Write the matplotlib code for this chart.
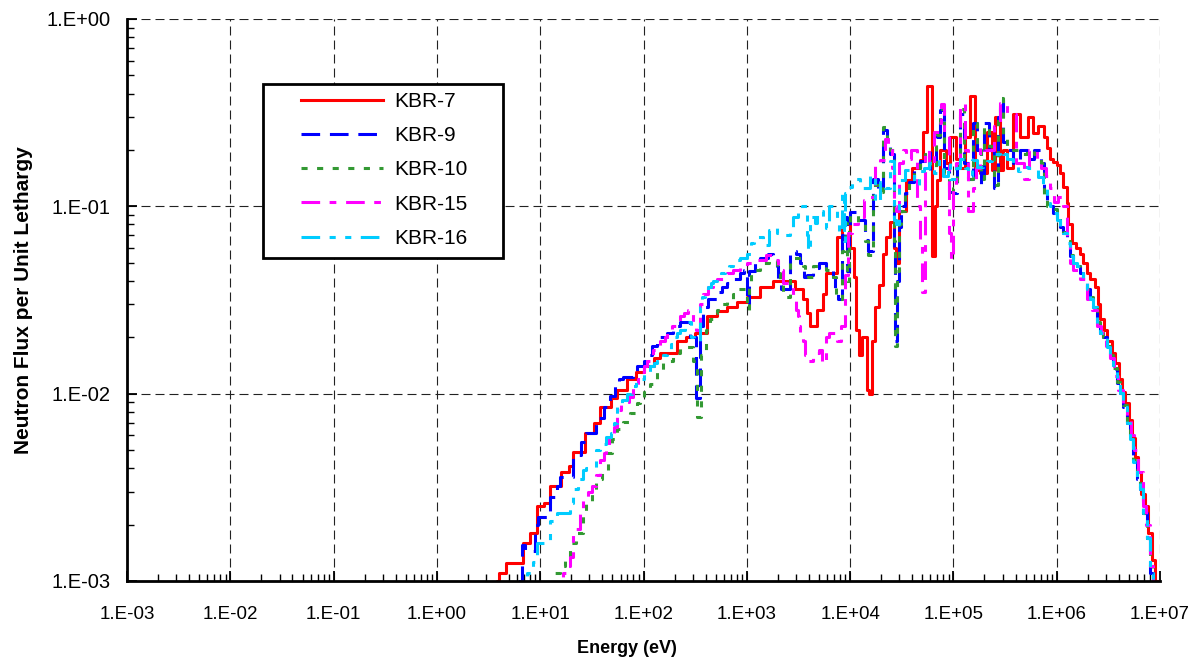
import math
import matplotlib
matplotlib.use("Agg")
import matplotlib.pyplot as plt
from matplotlib.ticker import LogLocator, FuncFormatter, NullFormatter
from matplotlib.patches import Rectangle

plt.rcParams['font.family'] = ['Liberation Sans', 'DejaVu Sans']

# ---------------- data (energy in eV, flux per unit lethargy) ----------------
labels = ["KBR-7", "KBR-9", "KBR-10", "KBR-15", "KBR-16"]

kbr7_e = [3.5, 3.8, 4.0, 4.7, 6.8, 8.0, 9.3, 11, 12.5, 16, 19, 21, 27, 33, 38, 48, 55, 69, 85, 100,
          125, 145, 209, 260, 316, 410, 520, 640, 800, 1000, 1350, 1800, 2450, 2950, 3500, 3800,
          4100, 4800, 5500, 5900, 7400, 8300, 9000, 10000, 11000, 11500, 12300, 13000, 14500,
          15300, 16200, 17500, 19000, 21000, 22500, 24500, 26500, 28000, 30000, 35000, 40000,
          48000, 51000, 56000, 61500, 66000, 70000, 75000, 85000, 92700, 105000, 117000, 130000,
          145000, 162000, 181000, 211000, 237000, 253000, 283000, 305000, 330000, 378000, 442000,
          528000, 590000, 659000, 760000, 806000, 861000, 921000, 1.007e6, 1.077e6, 1.151e6,
          1.259e6, 1.30e6, 1.40e6, 1.55e6, 1.683e6, 1.80e6, 1.966e6, 2.10e6, 2.35e6, 2.50e6,
          2.65e6, 2.90e6, 3.10e6, 3.40e6, 3.70e6, 4.00e6, 4.30e6, 4.60e6, 5.00e6, 5.30e6, 5.70e6,
          6.10e6, 6.60e6, 7.10e6, 7.70e6, 8.30e6, 9.00e6, 9.50e6, 9.80e6]
kbr7_phi = [8e-4, 1.0e-3, 1.1e-3, 1.25e-3, 1.6e-3, 1.8e-3, 2.5e-3, 2.6e-3, 3.2e-3, 3.8e-3, 4.1e-3,
            4.9e-3, 6.2e-3, 7.0e-3, 8.5e-3, 9.5e-3, 1.05e-2, 1.2e-2, 1.3e-2, 1.4e-2, 1.55e-2,
            1.65e-2, 1.9e-2, 2.0e-2, 2.1e-2, 2.6e-2, 2.75e-2, 2.9e-2, 3.1e-2, 3.3e-2, 3.7e-2,
            4.0e-2, 4.0e-2, 3.6e-2, 3.2e-2, 2.7e-2, 2.3e-2, 2.8e-2, 3.4e-2, 4.4e-2, 6.9e-2,
            8.8e-2, 8.0e-2, 6.0e-2, 4.2e-2, 2.2e-2, 1.6e-2, 2.0e-2, 1.05e-2, 1.0e-2, 1.9e-2,
            2.9e-2, 3.8e-2, 5.6e-2, 6.9e-2, 8.2e-2, 6.0e-2, 5.0e-2, 9.4e-2, 0.138, 0.16, 0.177,
            0.25, 0.44, 0.054, 0.10, 0.138, 0.20, 0.17, 0.235, 0.18, 0.16, 0.235, 0.39, 0.157,
            0.15, 0.25, 0.157, 0.30, 0.157, 0.20, 0.16, 0.31, 0.235, 0.30, 0.245, 0.27, 0.235,
            0.205, 0.18, 0.172, 0.166, 0.15, 0.127, 0.104, 0.08, 0.064, 0.06, 0.056, 0.05, 0.044,
            0.041, 0.037, 0.03, 0.025, 0.022, 0.019, 0.0165, 0.0146, 0.012, 0.0102, 0.0089,
            0.0072, 0.0058, 0.0046, 0.0038, 0.0029, 0.0025, 0.0018, 0.0013, 0.0010, 7e-4, 7e-4]

kbr9_e = [4.9, 5.0, 6.7, 7.2, 9.0, 9.5, 12.5, 14.5, 15.5, 21, 25, 28, 35, 41, 47, 53, 58, 63, 80,
          87, 100, 108, 120, 135, 170, 195, 225, 280, 320, 355, 380, 420, 510, 580, 640, 740, 860,
          950, 1000, 1050, 1200, 1350, 1600, 1800, 1950, 2000, 2150, 2600, 3000, 3300, 3550, 3800,
          4400, 5000, 5900, 6800, 7200, 7600, 8300, 8800, 9300, 9700, 10000, 12000, 14000, 15000,
          16500, 18500, 21000, 23000, 24500, 26500, 27200, 28500, 29500, 31000, 34000, 37000,
          42000, 47000, 53000, 60000, 68000, 75000, 82000, 90000, 100000, 108000, 115000, 128000,
          140000, 155000, 170000, 185000, 200000, 220000, 245000, 270000, 283000, 300000, 330000,
          380000, 440000, 520000, 600000, 700000, 760000, 806000, 860000, 920000, 1.007e6,
          1.077e6, 1.151e6, 1.259e6, 1.35e6, 1.45e6, 1.57e6, 1.68e6, 1.80e6, 1.97e6, 2.10e6,
          2.25e6, 2.45e6, 2.62e6, 2.80e6, 3.07e6, 3.28e6, 3.51e6, 3.84e6, 4.10e6, 4.39e6, 4.80e6,
          5.13e6, 5.48e6, 5.99e6, 6.40e6, 6.84e6, 7.48e6, 8.00e6, 8.55e6, 9.20e6, 9.60e6]
kbr9_phi = [8e-4, 1.0e-3, 1.55e-3, 1.45e-3, 2.0e-3, 2.2e-3, 2.8e-3, 3.2e-3, 3.6e-3, 4.7e-3, 5.5e-3,
            6.2e-3, 7.4e-3, 8.5e-3, 9.7e-3, 1.1e-2, 1.2e-2, 1.22e-2, 1.3e-2, 1.4e-2, 1.5e-2,
            1.6e-2, 1.8e-2, 2.0e-2, 2.1e-2, 2.3e-2, 2.4e-2, 2.0e-2, 9.5e-3, 2.3e-2, 2.9e-2, 3.2e-2,
            3.5e-2, 3.7e-2, 3.9e-2, 4.1e-2, 4.4e-2, 4.6e-2, 3.0e-2, 4.5e-2, 5.0e-2, 5.3e-2, 5.6e-2,
            5.1e-2, 4.8e-2, 4.0e-2, 3.6e-2, 5.8e-2, 5.6e-2, 5.0e-2, 4.2e-2, 4.3e-2, 4.7e-2, 5.0e-2,
            4.6e-2, 4.2e-2, 3.4e-2, 3.2e-2, 7.0e-2, 8.8e-2, 4.5e-2, 7.7e-2, 9.3e-2, 8.5e-2, 6.6e-2,
            5.8e-2, 0.14, 0.12, 0.255, 0.22, 0.19, 0.06, 0.019, 0.04, 0.078, 0.10, 0.118, 0.135,
            0.16, 0.175, 0.20, 0.157, 0.235, 0.326, 0.16, 0.12, 0.118, 0.17, 0.31, 0.17, 0.14,
            0.28, 0.20, 0.13, 0.28, 0.20, 0.125, 0.30, 0.37, 0.22, 0.20, 0.17, 0.20, 0.18, 0.20,
            0.17, 0.12, 0.104, 0.10, 0.092, 0.085, 0.078, 0.072, 0.064, 0.054, 0.05, 0.048, 0.044,
            0.04, 0.036, 0.032, 0.029, 0.023, 0.021, 0.020, 0.0178, 0.0157, 0.0135, 0.0114,
            0.0101, 0.0085, 0.0070, 0.0057, 0.0043, 0.0035, 0.0031, 0.0023, 0.0017, 0.0011,
            9e-4, 6e-4, 6e-4]

kbr10_e = [12.5, 14, 15.5, 17.5, 19.5, 22, 26, 28, 32, 35, 40, 45, 50, 56, 63, 74, 87, 93, 100, 115,
           125, 135, 155, 170, 195, 225, 250, 300, 330, 360, 400, 440, 470, 510, 570, 640, 730, 810,
           1000, 1050, 1100, 1350, 1650, 1950, 2100, 2250, 2600, 3500, 3650, 3900, 4400, 5900,
           6800, 7300, 8300, 8900, 9300, 9700, 10000, 12000, 14000, 15000, 16500, 18500, 21000,
           23000, 24500, 26500, 27200, 28500, 29500, 31000, 34000, 37000, 42000, 47000, 53000,
           60000, 68000, 75000, 82000, 90000, 100000, 108000, 115000, 128000, 140000, 155000,
           170000, 185000, 200000, 220000, 245000, 270000, 283000, 300000, 330000, 380000, 440000,
           520000, 600000, 700000, 760000, 806000, 900000, 1.007e6, 1.077e6, 1.151e6, 1.259e6,
           1.35e6, 1.45e6, 1.57e6, 1.68e6, 1.80e6, 1.97e6, 2.10e6, 2.25e6, 2.45e6, 2.62e6, 2.80e6,
           3.07e6, 3.28e6, 3.51e6, 3.84e6, 4.10e6, 4.39e6, 4.80e6, 5.13e6, 5.48e6, 5.99e6, 6.40e6,
           6.84e6, 7.48e6, 8.00e6, 8.55e6, 9.20e6, 9.60e6]
kbr10_phi = [8e-4, 1.1e-3, 1.2e-3, 1.3e-3, 1.6e-3, 1.8e-3, 2.3e-3, 2.6e-3, 2.9e-3, 3.5e-3, 3.9e-3,
             4.8e-3, 5.7e-3, 6.5e-3, 7.1e-3, 7.9e-3, 8.9e-3, 9.6e-3, 1.05e-2, 1.12e-2, 1.2e-2,
             1.3e-2, 1.45e-2, 1.5e-2, 1.65e-2, 1.75e-2, 1.78e-2, 1.5e-2, 7.5e-3, 1.6e-2, 2.2e-2,
             2.5e-2, 2.7e-2, 2.8e-2, 3.0e-2, 3.2e-2, 3.4e-2, 3.6e-2, 2.8e-2, 3.9e-2, 4.6e-2,
             5.0e-2, 5.2e-2, 4.4e-2, 3.9e-2, 3.3e-2, 5.3e-2, 4.8e-2, 4.4e-2, 4.2e-2, 4.8e-2,
             4.6e-2, 4.2e-2, 3.2e-2, 5.8e-2, 8.1e-2, 4.0e-2, 7.5e-2, 9.0e-2, 8.2e-2, 6.5e-2,
             5.5e-2, 0.13, 0.12, 0.265, 0.23, 0.20, 0.065, 0.018, 0.045, 0.08, 0.095, 0.12, 0.14,
             0.16, 0.18, 0.19, 0.16, 0.24, 0.33, 0.15, 0.12, 0.125, 0.17, 0.33, 0.18, 0.14, 0.28,
             0.21, 0.14, 0.27, 0.21, 0.13, 0.30, 0.38, 0.24, 0.21, 0.20, 0.19, 0.20, 0.19, 0.17,
             0.115, 0.10, 0.097, 0.087, 0.079, 0.073, 0.065, 0.055, 0.051, 0.048, 0.045, 0.041,
             0.036, 0.033, 0.029, 0.024, 0.021, 0.020, 0.018, 0.016, 0.0137, 0.0116, 0.0103,
             0.0087, 0.0071, 0.0058, 0.0044, 0.0036, 0.0031, 0.0023, 0.0017, 0.0012, 9e-4, 6e-4,
             6e-4]

kbr15_e = [14.5, 15, 16.5, 18, 19.5, 21, 24.5, 26, 29, 32, 35, 38, 41, 43, 46, 49, 52, 55, 60, 62, 72,
           80, 88, 93, 100, 107, 115, 124, 135, 145, 160, 170, 190, 205, 225, 245, 270, 300, 320,
           355, 380, 420, 470, 510, 640, 740, 860, 1000, 1250, 1550, 1780, 2000, 2250, 2650, 2800,
           3000, 3100, 3200, 3300, 3500, 3650, 3900, 4400, 5000, 5400, 5900, 6300, 7400, 8100,
           8900, 9500, 10500, 12000, 13500, 15000, 17500, 19500, 22000, 23500, 25500, 26500,
           28000, 30000, 32500, 35000, 39000, 44000, 47000, 50000, 53000, 58000, 65000, 72000,
           76000, 82000, 90000, 94000, 100000, 107000, 115000, 130000, 140000, 155000, 165000,
           180000, 200000, 245000, 283000, 330000, 400000, 480000, 540000, 640000, 700000, 780000,
           860000, 950000, 1.04e6, 1.15e6, 1.26e6, 1.34e6, 1.45e6, 1.68e6, 1.97e6, 2.20e6, 2.45e6,
           2.70e6, 3.00e6, 3.30e6, 3.60e6, 3.90e6, 4.40e6, 4.80e6, 5.20e6, 5.60e6, 6.10e6, 6.80e6,
           7.40e6, 8.00e6, 8.60e6, 9.10e6, 9.50e6]
kbr15_phi = [8e-4, 1.0e-3, 1.1e-3, 1.2e-3, 1.35e-3, 1.9e-3, 2.3e-3, 2.8e-3, 3.0e-3, 3.2e-3, 3.7e-3,
             4.4e-3, 4.8e-3, 5.2e-3, 5.7e-3, 6.2e-3, 6.6e-3, 8.2e-3, 8.7e-3, 9.0e-3, 9.6e-3,
             1.1e-2, 1.2e-2, 1.3e-2, 1.4e-2, 1.5e-2, 1.6e-2, 1.7e-2, 1.8e-2, 1.9e-2, 2.0e-2,
             2.2e-2, 2.3e-2, 2.4e-2, 2.6e-2, 2.7e-2, 2.8e-2, 2.4e-2, 2.2e-2, 3.0e-2, 3.4e-2,
             3.7e-2, 3.9e-2, 4.1e-2, 4.4e-2, 4.6e-2, 4.8e-2, 5.0e-2, 5.2e-2, 5.5e-2, 5.2e-2,
             4.6e-2, 3.9e-2, 3.8e-2, 3.2e-2, 2.8e-2, 2.6e-2, 2.3e-2, 2.0e-2, 1.9e-2, 1.6e-2,
             1.5e-2, 1.65e-2, 1.7e-2, 1.45e-2, 2.0e-2, 2.1e-2, 1.9e-2, 2.3e-2, 4.3e-2, 7.2e-2,
             8.0e-2, 8.8e-2, 0.108, 0.112, 0.165, 0.177, 0.23, 0.21, 0.16, 0.10, 0.094, 0.17,
             0.20, 0.18, 0.20, 0.10, 0.065, 0.035, 0.20, 0.16, 0.25, 0.28, 0.35, 0.25, 0.072,
             0.052, 0.13, 0.17, 0.35, 0.20, 0.095, 0.125, 0.16, 0.21, 0.20, 0.27, 0.355, 0.31,
             0.17, 0.14, 0.20, 0.177, 0.16, 0.145, 0.125, 0.105, 0.112, 0.10, 0.068, 0.05, 0.046,
             0.041, 0.032, 0.028, 0.023, 0.021, 0.018, 0.0155, 0.0125, 0.0105, 0.0085, 0.0072,
             0.006, 0.005, 0.0038, 0.0025, 0.002, 0.0012, 9e-4, 6e-4, 6e-4]

kbr16_e = [6.6, 6.8, 7.5, 8.5, 9.3, 12.5, 14.5, 19.5, 21, 23, 26, 28, 35, 38, 43, 48, 52, 55, 62, 69,
           78, 85, 89, 100, 115, 125, 135, 155, 170, 185, 195, 210, 225, 250, 270, 290, 310, 355,
           370, 390, 420, 450, 470, 520, 560, 620, 680, 740, 800, 860, 1000, 1100, 1180, 1250,
           1450, 1650, 1800, 1950, 2200, 2600, 2800, 3100, 3400, 3800, 3950, 4100, 4600, 4800,
           5500, 5900, 6300, 7400, 7800, 8300, 8700, 8900, 9500, 10500, 12500, 15500, 17500,
           19500, 22000, 24500, 26500, 28000, 30000, 34000, 38000, 42000, 46000, 52000, 58000,
           65000, 72000, 80000, 88000, 93000, 105000, 115000, 130000, 140000, 150000, 170000,
           195000, 211000, 237000, 253000, 283000, 305000, 330000, 380000, 420000, 442000, 530000,
           660000, 740000, 806000, 860000, 920000, 1.007e6, 1.077e6, 1.151e6, 1.259e6, 1.35e6,
           1.45e6, 1.57e6, 1.68e6, 1.80e6, 1.97e6, 2.10e6, 2.25e6, 2.45e6, 2.62e6, 2.80e6,
           3.07e6, 3.28e6, 3.51e6, 3.84e6, 4.10e6, 4.39e6, 4.80e6, 5.13e6, 5.48e6, 5.99e6,
           6.40e6, 6.84e6, 7.48e6, 8.00e6, 8.55e6, 9.20e6, 9.60e6]
kbr16_phi = [8e-4, 1.0e-3, 1.1e-3, 1.26e-3, 1.6e-3, 2.1e-3, 2.3e-3, 2.6e-3, 3.1e-3, 3.5e-3, 3.9e-3,
             4.0e-3, 5.0e-3, 5.4e-3, 5.9e-3, 6.2e-3, 7.0e-3, 8.9e-3, 9.3e-3, 1.0e-2, 1.1e-2,
             1.15e-2, 1.2e-2, 1.3e-2, 1.4e-2, 1.45e-2, 1.5e-2, 1.6e-2, 1.7e-2, 1.85e-2, 2.0e-2,
             2.1e-2, 2.2e-2, 2.3e-2, 2.4e-2, 2.0e-2, 1.9e-2, 2.9e-2, 3.3e-2, 3.5e-2, 3.7e-2,
             3.9e-2, 4.0e-2, 4.2e-2, 4.4e-2, 4.6e-2, 4.8e-2, 5.0e-2, 5.2e-2, 5.3e-2, 5.6e-2,
             6.4e-2, 6.6e-2, 6.9e-2, 6.2e-2, 7.5e-2, 7.7e-2, 7.2e-2, 7.0e-2, 7.5e-2, 8.8e-2,
             9.2e-2, 0.10, 7.0e-2, 5.8e-2, 8.8e-2, 8.1e-2, 9.5e-2, 8.8e-2, 7.7e-2, 0.10, 8.1e-2,
             7.2e-2, 0.12, 0.065, 0.118, 0.127, 0.14, 0.125, 0.147, 0.105, 0.135, 0.125, 0.175,
             0.085, 0.08, 0.138, 0.157, 0.15, 0.13, 0.155, 0.16, 0.17, 0.15, 0.175, 0.145, 0.17,
             0.14, 0.16, 0.178, 0.16, 0.145, 0.177, 0.163, 0.17, 0.175, 0.18, 0.19, 0.20, 0.19,
             0.18, 0.17, 0.155, 0.163, 0.16, 0.143, 0.125, 0.104, 0.10, 0.092, 0.085, 0.078,
             0.072, 0.064, 0.054, 0.05, 0.048, 0.044, 0.04, 0.036, 0.032, 0.029, 0.023, 0.021,
             0.020, 0.0178, 0.0157, 0.0135, 0.0114, 0.0101, 0.0085, 0.0070, 0.0057, 0.0043,
             0.0035, 0.0031, 0.0023, 0.0017, 0.0011, 9e-4, 6e-4, 6e-4]

series_e = [kbr7_e, kbr9_e, kbr10_e, kbr15_e, kbr16_e]
series_phi = [kbr7_phi, kbr9_phi, kbr10_phi, kbr15_phi, kbr16_phi]

x_ticks = [1e-3, 1e-2, 1e-1, 1e0, 1e1, 1e2, 1e3, 1e4, 1e5, 1e6, 1e7]
y_ticks = [1e-3, 1e-2, 1e-1, 1e0]

# ---------------- styles ----------------
colors = ['#FF0000', '#0000FF', '#339933', '#FF00FF', '#00CCFF']
styles = ['-',
          (0, (6.1, 3.2)),
          (0, (2.0, 3.1)),
          (0, (6.1, 3.1, 2.2, 3.2)),
          (0, (6.1, 3.1, 2.0, 3.1, 2.0, 3.1))]
LW = 2.2

W, H = 1204, 663
fig = plt.figure(figsize=(W / 100, H / 100), dpi=100)
L, R, T, B = 127, 1160, 19, 581
ax = fig.add_axes([L / W, 1 - B / H, (R - L) / W, (B - T) / H])

for e, p, c, ls, lab in zip(series_e, series_phi, colors, styles, labels):
    ax.step(e, p, where='post', color=c, linestyle=ls, linewidth=LW, label=lab)

ax.set_xscale('log')
ax.set_yscale('log')
ax.set_xlim(1e-3, 1e7)
ax.set_ylim(1e-3, 1e0)

fmt = FuncFormatter(lambda v, pos: "1.E{:+03d}".format(int(round(math.log10(v)))))
ax.set_xticks(x_ticks)
ax.set_yticks(y_ticks)
ax.xaxis.set_major_formatter(fmt)
ax.yaxis.set_major_formatter(fmt)
ax.xaxis.set_minor_locator(LogLocator(base=10, subs=range(2, 10), numticks=20))
ax.yaxis.set_minor_locator(LogLocator(base=10, subs=range(2, 10), numticks=20))
ax.xaxis.set_minor_formatter(NullFormatter())
ax.yaxis.set_minor_formatter(NullFormatter())

ax.tick_params(axis='both', which='major', direction='in', length=7, width=1.3, colors='black')
ax.tick_params(axis='both', which='minor', direction='in', length=5, width=1.0)
ax.tick_params(axis='x', which='major', labelsize=13.5, pad=18)
ax.tick_params(axis='y', which='major', labelsize=14.5, pad=12)

ax.grid(True, which='major', color='#222222', linestyle=(0, (8.1, 4.5)), linewidth=0.8)
ax.set_axisbelow(True)

for s in ['top', 'right']:
    ax.spines[s].set_visible(False)
for s in ['left', 'bottom']:
    ax.spines[s].set_linewidth(2.0)
    ax.spines[s].set_color('black')

ax.set_xlabel('Energy (eV)', fontsize=13, fontweight='bold')
ax.set_ylabel('Neutron Flux per Unit Lethargy', fontsize=15, fontweight='bold')
ax.xaxis.set_label_coords((627 - L) / (R - L), -(640 - B) / (B - T))
ax.yaxis.set_label_coords(-(127 - 33) / (R - L), (B - 300) / (B - T))

# legend box
bx0, bx1, by0, by1 = 263, 503, 84, 258
box = Rectangle(((bx0 - L) / (R - L), (B - by1) / (B - T)), (bx1 - bx0) / (R - L), (by1 - by0) / (B - T),
                transform=ax.transAxes, facecolor='white', edgecolor='black', linewidth=2.0, zorder=5)
ax.add_patch(box)
leg = ax.legend(loc='upper left', bbox_to_anchor=((301 - L) / (R - L), (B - 92) / (B - T)),
                frameon=False, fontsize=15, handlelength=3.94, handletextpad=0.53,
                labelspacing=0.73, borderpad=0.0, borderaxespad=0.0)
leg.set_zorder(6)

fig.savefig('out.png', dpi=100)
